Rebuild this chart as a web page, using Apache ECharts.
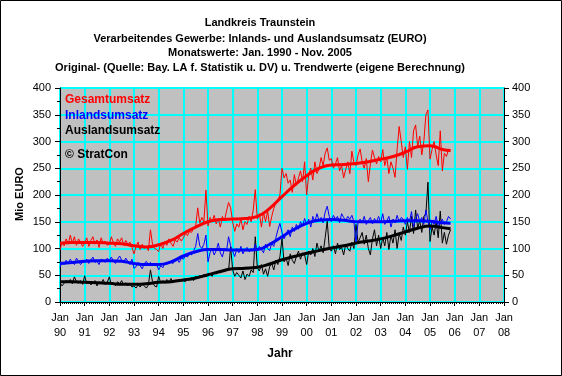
<!DOCTYPE html>
<html>
<head>
<meta charset="utf-8">
<script src="https://cdn.jsdelivr.net/npm/echarts@6/dist/echarts.min.js"></script>
<style>
html,body{margin:0;padding:0;background:#fff;}
#c{width:562px;height:376px;}
</style>
</head>
<body>
<div id="c"></div>
<script>
// Tick labels (x axis, two-digit years)
const yearLabels = ['90','91','92','93','94','95','96','97','98','99','00','01','02','03','04','05','06','07','08'];
const startYear = 1990;

// Monthly raw values Jan 1990 - Nov 2005 (Mio EURO)
const gesamt = [
  97,112,105,118,108,125,110,122,106,118,112,104,
  110,120,104,115,122,108,116,102,120,110,114,106,
  108,122,110,104,118,112,120,106,115,108,112,102,
  90,104,112,98,108,100,104,96,135,108,100,98,
  94,110,100,112,106,118,110,104,116,112,120,114,
  120,128,124,132,130,138,142,176,148,158,150,209,
  142,158,150,162,146,156,140,160,152,170,186,176,
  150,132,146,140,155,135,150,145,160,150,172,210,
  155,165,140,168,150,170,141,160,175,185,190,200,
  250,232,240,222,228,205,238,218,232,245,225,262,
  200,238,250,228,262,240,248,270,255,278,288,265,
  268,250,258,270,245,255,232,248,262,240,282,260,
  255,275,286,262,250,268,225,258,284,270,258,272,
  262,285,255,270,240,262,250,233,285,328,300,270,
  290,248,300,270,320,331,290,310,275,300,350,359,
  267,285,300,275,255,320,245,278,272,285,283
];
const inland = [
  65,75,70,78,72,80,74,70,82,76,70,74,
  74,80,72,78,84,74,76,70,80,78,74,82,
  78,84,76,72,80,86,78,74,82,76,70,80,
  63,66,74,68,62,72,76,70,74,68,72,70,
  60,68,64,72,70,76,74,72,78,80,74,82,
  80,86,84,90,88,96,104,128,105,100,108,125,
  75,92,100,88,96,110,92,84,100,95,122,105,
  95,85,100,92,104,90,98,102,94,100,96,108,
  96,104,98,92,108,100,96,110,104,120,135,147,
  130,118,128,135,122,140,132,145,136,150,142,156,
  145,155,140,160,150,165,152,158,148,168,179,160,
  150,162,155,160,148,165,158,152,160,155,162,150,
  110,150,155,148,160,145,152,158,146,156,150,160,
  148,165,145,152,160,140,155,148,162,150,158,155,
  145,158,150,169,140,155,165,150,158,145,172,150,
  135,150,145,160,140,148,155,145,150,160,155
];
const ausland = [
  36,30,35,40,38,42,34,47,38,35,40,33,
  49,34,38,32,36,40,30,38,35,42,33,37,
  47,32,36,30,38,34,40,32,36,30,34,28,
  30,26,32,28,34,30,26,32,60,38,30,28,
  48,36,40,35,42,38,44,36,40,38,42,40,
  40,38,44,42,46,40,48,44,50,46,52,48,
  50,54,48,56,52,58,54,60,56,62,58,103,
  60,48,55,50,45,58,42,52,48,60,55,122,
  64,58,70,52,62,48,66,72,60,78,70,85,
  119,75,82,68,90,78,72,85,95,80,92,88,
  70,95,88,100,85,110,95,105,92,120,151,100,
  95,105,90,110,98,102,88,108,100,95,112,100,
  145,112,120,130,108,125,100,88,118,135,105,125,
  100,120,105,130,98,125,110,135,100,128,115,140,
  125,150,130,160,128,172,138,152,130,160,165,224,
  113,140,125,150,120,170,110,130,108,125,135
];

// Trend values (eigene Berechnung), read at half-year points
const trendDates = [1990,1990.5,1991,1991.5,1992,1992.5,1993,1993.5,1994,1994.5,1995,1995.5,1996,1996.5,1997,1997.5,1998,1998.5,1999,1999.5,2000,2000.5,2001,2001.5,2002,2002.5,2003,2003.5,2004,2004.5,2005,2005.5,2005.833];
const gesamtTrend  = [110,111,111,111,110,109,105,103,107,115,128,140,150,154,155,156,160,175,197,218,236,250,256,257,259,262,267,272,280,290,292,285,283];
const inlandTrend  = [72,74,76,77,77,76,72,70,70,75,86,94,98,98,97,97,98,108,122,136,147,153,154,153,150,150,150,151,152,152,151,148,147];
const auslandTrend = [38,38,37,36,35,33,33,34,37,38,41,45,51,57,62,63,65,71,79,85,91,96,101,105,110,114,118,124,131,138,142,139,137];

const titleLines = [
  'Landkreis Traunstein',
  'Verarbeitendes Gewerbe: Inlands- und Auslandsumsatz (EURO)',
  'Monatswerte: Jan. 1990 - Nov. 2005',
  'Original- (Quelle: Bay. LA f. Statistik u. DV) u. Trendwerte (eigene Berechnung)'
];

const monthly = arr => arr.map((v, i) => [startYear + i / 12, v]);
const trend = arr => arr.map((v, i) => [trendDates[i], v]);

const FONT = '"Liberation Sans", Arial, sans-serif';
const chart = echarts.init(document.getElementById('c'), null, {renderer: 'canvas'});

const yAxisCommon = {
  type: 'value', min: 0, max: 400, interval: 50,
  axisLine: {show: true, lineStyle: {color: '#000', width: 1}},
  axisTick: {show: true, length: 5, lineStyle: {color: '#000'}},
  minorTick: {show: true, splitNumber: 2, length: 3, lineStyle: {color: '#000'}},
  axisLabel: {color: '#000', fontSize: 11, fontFamily: FONT},
};

const titleY = [23, 39, 53, 68];
const titleGraphics = titleLines.map((t, i) => ({
  type: 'text', x: 260, y: titleY[i],
  style: {text: t, fill: '#000', font: 'bold 11px ' + FONT, align: 'center', verticalAlign: 'middle'}, z: 50
}));

chart.setOption({
  animation: false,
  backgroundColor: '#fff',
  grid: {left: 60, right: 58, top: 88, bottom: 74, show: true, backgroundColor: '#C0C0C0', borderColor: '#808080', borderWidth: 1},
  xAxis: {
    type: 'value', min: 1990, max: 2008, interval: 1,
    axisLine: {show: true, onZero: false, lineStyle: {color: '#000', width: 1}},
    axisTick: {show: true, length: 4, lineStyle: {color: '#000'}},
    minorTick: {show: true, splitNumber: 12, length: 2, lineStyle: {color: '#000'}},
    splitLine: {show: true, lineStyle: {color: '#00FFFF', width: 2}},
    axisLabel: {
      color: '#000', fontSize: 11, fontFamily: FONT, lineHeight: 15, margin: 8,
      formatter: v => 'Jan\n' + yearLabels[Math.round(v - startYear)]
    }
  },
  yAxis: [
    Object.assign({}, yAxisCommon, {position: 'left', splitLine: {show: true, lineStyle: {color: '#00FFFF', width: 2}}, axisLabel: Object.assign({}, yAxisCommon.axisLabel, {margin: 9})}),
    Object.assign({}, yAxisCommon, {position: 'right', splitLine: {show: false}, axisLabel: Object.assign({}, yAxisCommon.axisLabel, {margin: 8})})
  ],
  graphic: titleGraphics.concat([
    {type: 'rect', shape: {x: 0.5, y: 0.5, width: 561, height: 375}, style: {fill: 'none', stroke: '#000', lineWidth: 1}, z: 100},
    {type: 'text', x: 65, y: 100, style: {text: 'Gesamtumsatz', fill: '#FF0000', font: 'bold 12px ' + FONT, verticalAlign: 'middle'}, z: 50},
    {type: 'text', x: 65, y: 116, style: {text: 'Inlandsumsatz', fill: '#0000FF', font: 'bold 12px ' + FONT, verticalAlign: 'middle'}, z: 50},
    {type: 'text', x: 65, y: 131, style: {text: 'Auslandsumsatz', fill: '#000', font: 'bold 12px ' + FONT, verticalAlign: 'middle'}, z: 50},
    {type: 'text', x: 65, y: 155, style: {text: '© StratCon', fill: '#000', font: 'bold 12px ' + FONT, verticalAlign: 'middle'}, z: 50},
    {type: 'text', x: 20, y: 194, rotation: Math.PI / 2, style: {text: 'Mio EURO', fill: '#000', font: 'bold 11px ' + FONT, align: 'center', verticalAlign: 'middle'}, z: 50},
    {type: 'text', x: 280, y: 354, style: {text: 'Jahr', fill: '#000', font: 'bold 12px ' + FONT, align: 'center', verticalAlign: 'middle'}, z: 50}
  ]),
  series: [
    {name: 'Auslandsumsatz', type: 'line', data: monthly(ausland), showSymbol: false, lineStyle: {color: '#000', width: 1}, itemStyle: {color: '#000'}, z: 2},
    {name: 'Inlandsumsatz', type: 'line', data: monthly(inland), showSymbol: false, lineStyle: {color: '#0000FF', width: 1}, itemStyle: {color: '#0000FF'}, z: 2},
    {name: 'Gesamtumsatz', type: 'line', data: monthly(gesamt), showSymbol: false, lineStyle: {color: '#FF0000', width: 1}, itemStyle: {color: '#FF0000'}, z: 2},
    {name: 'Trend Ausland', type: 'line', data: trend(auslandTrend), smooth: true, showSymbol: false, lineStyle: {color: '#000', width: 3}, itemStyle: {color: '#000'}, z: 3},
    {name: 'Trend Inland', type: 'line', data: trend(inlandTrend), smooth: true, showSymbol: false, lineStyle: {color: '#0000FF', width: 3}, itemStyle: {color: '#0000FF'}, z: 3},
    {name: 'Trend Gesamt', type: 'line', data: trend(gesamtTrend), smooth: true, showSymbol: false, lineStyle: {color: '#FF0000', width: 3}, itemStyle: {color: '#FF0000'}, z: 3}
  ]
});
</script>
</body>
</html>
